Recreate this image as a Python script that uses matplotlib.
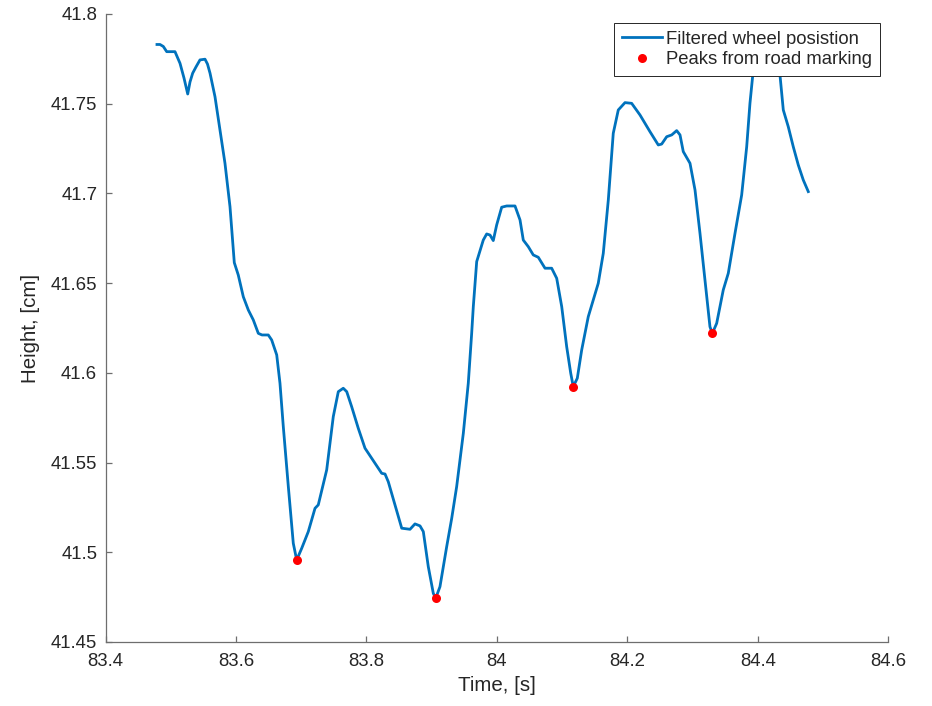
import matplotlib
matplotlib.use("Agg")
import matplotlib.pyplot as plt
import numpy as np

# Filtered wheel position over time
time_s = [
    83.4789, 83.4835, 83.4886, 83.4938, 83.5065, 83.5142, 83.5203, 83.5260, 83.5295, 83.5336,
    83.5387, 83.5448, 83.5525, 83.5563, 83.5602, 83.5678, 83.5755, 83.5831, 83.5908, 83.5974,
    83.6035, 83.6112, 83.6189, 83.6265, 83.6342, 83.6399, 83.6495, 83.6547, 83.6624, 83.6674,
    83.6725, 83.6802, 83.6878, 83.6930, 83.7007, 83.7108, 83.7211, 83.7261, 83.7390, 83.7491,
    83.7568, 83.7644, 83.7697, 83.7773, 83.7874, 83.7977, 83.8080, 83.8233, 83.8284, 83.8334,
    83.8437, 83.8540, 83.8667, 83.8743, 83.8820, 83.8871, 83.8947, 83.9024, 83.9061, 83.9126,
    83.9229, 83.9306, 83.9382, 83.9484, 83.9560, 83.9612, 83.9637, 83.9689, 83.9790, 83.9842,
    83.9893, 83.9943, 83.9995, 84.0072, 84.0149, 84.0276, 84.0353, 84.0403, 84.0480, 84.0556,
    84.0633, 84.0736, 84.0838, 84.0915, 84.0992, 84.1068, 84.1130, 84.1169, 84.1231, 84.1298,
    84.1399, 84.1552, 84.1629, 84.1706, 84.1782, 84.1859, 84.1962, 84.2064, 84.2192, 84.2345,
    84.2472, 84.2524, 84.2601, 84.2678, 84.2754, 84.2805, 84.2855, 84.2958, 84.3035, 84.3111,
    84.3188, 84.3264, 84.3300, 84.3367, 84.3468, 84.3545, 84.3648, 84.3750, 84.3827, 84.3877,
    84.3928, 84.4000, 84.4092, 84.4215, 84.4337, 84.4388, 84.4464, 84.4541, 84.4618, 84.4694,
    84.4771,
]
height_cm = [
    41.7830, 41.7830, 41.7819, 41.7790, 41.7790, 41.7725, 41.7643, 41.7554, 41.7621, 41.7670,
    41.7705, 41.7744, 41.7748, 41.7721, 41.7670, 41.7539, 41.7354, 41.7168, 41.6926, 41.6614,
    41.6545, 41.6424, 41.6350, 41.6295, 41.6220, 41.6211, 41.6211, 41.6183, 41.6100, 41.5942,
    41.5700, 41.5366, 41.5050, 41.4957, 41.5022, 41.5115, 41.5245, 41.5264, 41.5459, 41.5756,
    41.5895, 41.5914, 41.5895, 41.5811, 41.5691, 41.5580, 41.5524, 41.5440, 41.5436, 41.5393,
    41.5264, 41.5134, 41.5128, 41.5158, 41.5147, 41.5115, 41.4920, 41.4771, 41.4744, 41.4808,
    41.5031, 41.5189, 41.5366, 41.5663, 41.5942, 41.6220, 41.6369, 41.6620, 41.6740, 41.6774,
    41.6768, 41.6737, 41.6824, 41.6923, 41.6930, 41.6930, 41.6852, 41.6740, 41.6703, 41.6657,
    41.6644, 41.6583, 41.6583, 41.6527, 41.6369, 41.6146, 41.5998, 41.5923, 41.5970, 41.6127,
    41.6313, 41.6499, 41.6666, 41.6963, 41.7335, 41.7465, 41.7506, 41.7502, 41.7437, 41.7344,
    41.7270, 41.7275, 41.7316, 41.7326, 41.7350, 41.7326, 41.7233, 41.7168, 41.7019, 41.6778,
    41.6518, 41.6257, 41.6220, 41.6276, 41.6462, 41.6555, 41.6778, 41.6991, 41.7260, 41.7502,
    41.7688, 41.7855, 41.7911, 41.7827, 41.7660, 41.7465, 41.7372, 41.7260, 41.7158, 41.7075,
    41.7010,
]

# Samples flagged as road-marking peaks (indices into the series above)
peak_indices = [33, 58, 87, 112]

x_ticks = [83.4, 83.6, 83.8, 84.0, 84.2, 84.4, 84.6]
x_tick_labels = ["83.4", "83.6", "83.8", "84", "84.2", "84.4", "84.6"]
y_ticks = [41.45, 41.5, 41.55, 41.6, 41.65, 41.7, 41.75, 41.8]
y_tick_labels = ["41.45", "41.5", "41.55", "41.6", "41.65", "41.7", "41.75", "41.8"]

plt.rcParams["font.family"] = ["Liberation Sans", "DejaVu Sans"]

line_color = "#0072BD"
axis_color = "#6e6e6e"
text_color = "#262626"

fig = plt.figure(figsize=(9.32, 7.06), dpi=100)
ax = fig.add_axes([0.1132, 0.0907, 0.8401, 0.8895])

t = np.asarray(time_s)
h = np.asarray(height_cm)
ax.plot(t, h, color=line_color, linewidth=2.0, label="Filtered wheel posistion", zorder=2)
ax.plot(t[peak_indices], h[peak_indices], linestyle="none", marker="o",
        markersize=6.5, color="red", markeredgewidth=0,
        label="Peaks from road marking", zorder=3)

ax.set_xlim(83.4, 84.6)
ax.set_ylim(41.45, 41.8)
ax.set_xticks(x_ticks)
ax.set_xticklabels(x_tick_labels)
ax.set_yticks(y_ticks)
ax.set_yticklabels(y_tick_labels)

for side in ("top", "right"):
    ax.spines[side].set_visible(False)
for side in ("left", "bottom"):
    ax.spines[side].set_color(axis_color)
    ax.spines[side].set_linewidth(0.9)

ax.tick_params(axis="both", direction="in", length=4, width=0.9,
               color=axis_color, labelcolor=text_color, labelsize=13.4)
ax.tick_params(axis="x", pad=8)
ax.tick_params(axis="y", pad=6)

ax.set_xlabel("Time, [s]", fontsize=14.8, color=text_color, labelpad=4)
ax.set_ylabel("Height, [cm]", fontsize=14.8, color=text_color, labelpad=8)

leg = ax.legend(loc="upper right", bbox_to_anchor=(0.989, 0.986), borderaxespad=0,
                fontsize=13.3, frameon=True, fancybox=False, framealpha=1.0,
                edgecolor=text_color, handlelength=2.2, handletextpad=0.2,
                labelspacing=0.2, borderpad=0.42, numpoints=1)
leg.get_frame().set_linewidth(0.7)
leg.set_zorder(5)
for txt in leg.get_texts():
    txt.set_color(text_color)

fig.savefig("out.png", dpi=100, facecolor="white")
